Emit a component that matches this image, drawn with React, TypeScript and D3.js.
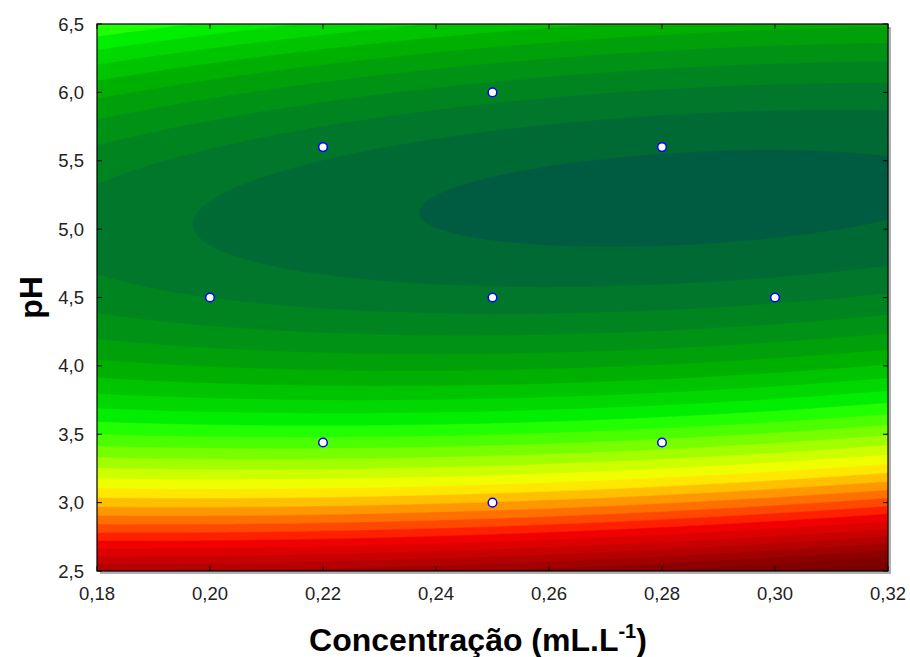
import React, { useMemo } from "react";
import * as d3 from "d3";

// design points (concentration mL/L, pH)
const pointConc = [0.2, 0.22, 0.25, 0.28, 0.3, 0.25, 0.22, 0.28, 0.25];
const pointPH = [4.5, 5.6, 6.0, 5.6, 4.5, 4.5, 3.44, 3.44, 3.0];

// fitted quadratic surface: b0, bC, bP, bCC, bPP, bCP
const modelCoef = [-94.137, 30.8, 34.515, -200.98, -3.74, 16.03];

const xTicks = [0.18, 0.2, 0.22, 0.24, 0.26, 0.28, 0.3, 0.32];
const yTicks = [2.5, 3.0, 3.5, 4.0, 4.5, 5.0, 5.5, 6.0, 6.5];

// band colours, lowest response first (one band per unit of response)
const bandColors = [
  "#700000", "#780000", "#800000", "#8c0000", "#a00000", "#b40000",
  "#c80000", "#dc0000", "#f00000", "#ff2000", "#ff4800", "#ff7000",
  "#ff9800", "#ffc000", "#ffe800", "#f0ff00", "#ccff00", "#a2ff00",
  "#77ff00", "#4cff00", "#22ff00", "#00ee00", "#00d800", "#00c400",
  "#00b000", "#00a00a", "#009215", "#008420", "#00772a", "#006a35",
  "#005c40",
];

const W = 910;
const H = 657;
const plot = { left: 97, right: 888, top: 24, bottom: 571 };
const font = "'Liberation Sans', Arial, sans-serif";

const response = (c: number, p: number) => {
  const [b0, bC, bP, bCC, bPP, bCP] = modelCoef;
  return b0 + bC * c + bP * p + bCC * c * c + bPP * p * p + bCP * c * p;
};

export default function App() {
  const x = d3.scaleLinear().domain([0.18, 0.32]).range([plot.left, plot.right]);
  const y = d3.scaleLinear().domain([2.5, 6.5]).range([plot.bottom, plot.top]);
  const comma = (f: string) => (v: number) => d3.format(f)(v).replace(".", ",");

  const bands = useMemo(() => {
    const nx = 400;
    const ny = 300;
    const values = new Float64Array(nx * ny);
    for (let j = 0; j < ny; j++) {
      const p = y.invert(plot.top + ((j + 0.5) / ny) * (plot.bottom - plot.top));
      for (let i = 0; i < nx; i++) {
        const c = x.invert(plot.left + ((i + 0.5) / nx) * (plot.right - plot.left));
        values[j * nx + i] = response(c, p);
      }
    }
    const n = bandColors.length;
    const thresholds = bandColors.slice(1).map((_, i) => -(n - 2 - i));
    const contours = d3.contours().size([nx, ny]).thresholds(thresholds)(Array.from(values));
    const sx = (plot.right - plot.left) / nx;
    const sy = (plot.bottom - plot.top) / ny;
    const path = d3.geoPath(
      d3.geoTransform({
        point(px, py) {
          this.stream.point(plot.left + px * sx, plot.top + py * sy);
        },
      })
    );
    return contours.map((c, i) => ({ d: path(c) || "", fill: bandColors[i + 1] }));
  }, []);

  const pw = plot.right - plot.left;
  const ph = plot.bottom - plot.top;

  return (
    <svg width={W} height={H} style={{ position: "absolute", left: 0, top: 0, background: "#fff" }}>
      <defs>
        <clipPath id="plotClip">
          <rect x={plot.left} y={plot.top} width={pw} height={ph} />
        </clipPath>
      </defs>
      {/* shadow */}
      <rect x={plot.left + 3} y={plot.top + 3} width={pw} height={ph} fill="#b0b0b0" />
      <g clipPath="url(#plotClip)">
        <rect x={plot.left} y={plot.top} width={pw} height={ph} fill={bandColors[0]} />
        {bands.map((b, i) => (
          <path key={i} d={b.d} fill={b.fill} stroke={b.fill} strokeWidth={0.5} />
        ))}
      </g>
      <rect x={plot.left} y={plot.top} width={pw} height={ph} fill="none" stroke="#000" strokeWidth={1.2} />

      {/* ticks inside on all sides */}
      {xTicks.map((t) => (
        <g key={"xt" + t}>
          <line x1={x(t)} x2={x(t)} y1={plot.bottom} y2={plot.bottom - 5} stroke="#000" />
          <line x1={x(t)} x2={x(t)} y1={plot.top} y2={plot.top + 5} stroke="#000" />
          <text
            x={x(t)}
            y={plot.bottom + 29}
            textAnchor="middle"
            fontFamily={font}
            fontSize={18.5}
            fill="#222"
          >
            {comma(".2f")(t)}
          </text>
        </g>
      ))}
      {yTicks.map((t) => (
        <g key={"yt" + t}>
          <line x1={plot.left} x2={plot.left + 5} y1={y(t)} y2={y(t)} stroke="#000" />
          <line x1={plot.right} x2={plot.right - 5} y1={y(t)} y2={y(t)} stroke="#000" />
          <text
            x={84}
            y={y(t) + 6.5}
            textAnchor="end"
            fontFamily={font}
            fontSize={18.5}
            fill="#222"
          >
            {comma(".1f")(t)}
          </text>
        </g>
      ))}

      {/* design points */}
      {pointConc.map((c, i) => (
        <circle
          key={"pt" + i}
          cx={x(c)}
          cy={y(pointPH[i])}
          r={4.3}
          fill="#fff"
          stroke="#0000ff"
          strokeWidth={1.5}
        />
      ))}

      {/* axis titles */}
      <text
        x={478}
        y={651}
        textAnchor="middle"
        fontFamily={font}
        fontWeight="bold"
        fontSize={32}
        fill="#000"
      >
        Concentração (mL.L
        <tspan fontSize={20} dy={-13}>-1</tspan>
        <tspan dy={13}>)</tspan>
      </text>
      <text
        transform={`translate(42, ${(plot.top + plot.bottom) / 2}) rotate(-90)`}
        textAnchor="middle"
        fontFamily={font}
        fontWeight="bold"
        fontSize={32}
        fill="#000"
      >
        pH
      </text>
    </svg>
  );
}
